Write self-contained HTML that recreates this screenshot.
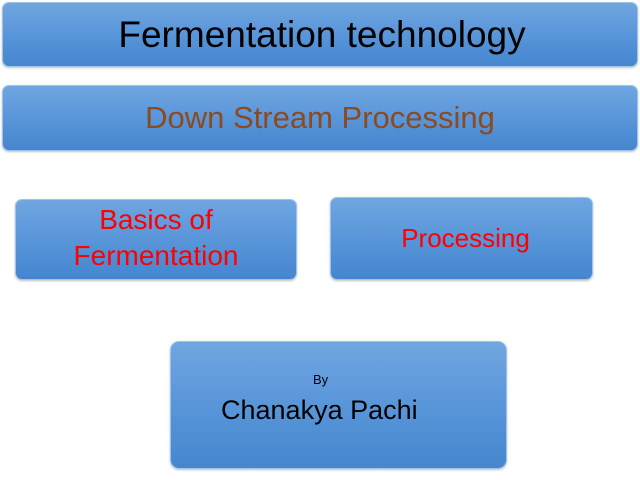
<!DOCTYPE html>
<html><head><style>
body{margin:0;width:640px;height:480px;background:#fff;position:relative;overflow:hidden;font-family:"Liberation Sans",sans-serif}
.b{position:absolute;border-radius:7px;background:linear-gradient(#70a6e0,#5b97da 45%,#4586cf);border:1px solid #9cc4ec;box-shadow:0 1px 2px rgba(0,0,0,.25);display:flex;flex-direction:column;align-items:center;justify-content:center;text-align:center;box-sizing:border-box}
</style></head><body>
<div class="b" style="left:2px;top:2px;width:636px;height:65px"><span style="font-size:37px;color:#000;margin-left:4px">Fermentation technology</span></div>
<div class="b" style="left:2px;top:85px;width:636px;height:66px"><span style="font-size:31px;color:#8b4a1f;margin-left:0px">Down Stream Processing</span></div>
<div class="b" style="left:15px;top:199px;width:282px;height:81px"><span style="font-size:28px;color:#ff0000;line-height:36px;margin-top:-4px">Basics of<br>Fermentation</span></div>
<div class="b" style="left:330px;top:197px;width:263px;height:83px"><span style="font-size:26px;color:#ff0000;margin-left:8px">Processing</span></div>
<div class="b" style="left:170px;top:341px;width:337px;height:128px;border-radius:9px">
<span style="font-size:13px;color:#000;position:absolute;left:142px;top:30px">By</span>
<span style="font-size:27px;color:#000;position:absolute;left:50px;top:53px">Chanakya Pachi</span></div>
</body></html>
